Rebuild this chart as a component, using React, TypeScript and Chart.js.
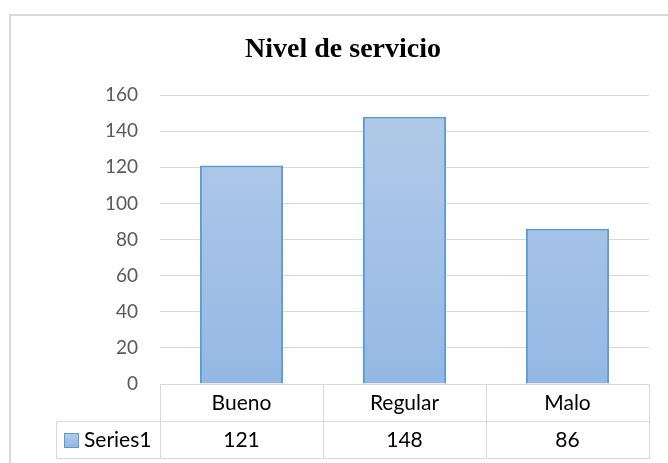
import React, { useEffect, useRef } from "react";
import { Chart, registerables } from "chart.js";

Chart.register(...registerables);

const title = "Nivel de servicio";
const categories = ["Bueno", "Regular", "Malo"];
const seriesName = "Series1";
const values = [121, 148, 86];
const yTicks = [0, 20, 40, 60, 80, 100, 120, 140, 160];

const FONT = "Lato, 'Open Sans', sans-serif";
const LINE = "#d9d9d9";
const BORDER = "#5b9bd5";
const TOP_COLOR = "#b4cbe9";
const BOTTOM_COLOR = "#94b8e4";

const decorPlugin = {
  id: "decor",
  beforeDraw(chart: any) {
    const ctx = chart.ctx;
    ctx.save();
    ctx.fillStyle = "#ffffff";
    ctx.fillRect(0, 0, chart.width, chart.height);
    ctx.strokeStyle = LINE;
    ctx.lineWidth = 2;
    ctx.strokeRect(10, 15, chart.width + 20, chart.height + 20);
    ctx.restore();
  },
  afterDraw(chart: any) {
    const ctx = chart.ctx;
    const ca = chart.chartArea;
    const xs = chart.scales.x;
    const n = categories.length;
    const colW = (ca.right - ca.left) / n;
    const rowH = 37;
    const top = ca.bottom;
    const mid = top + rowH;
    const bot = mid + rowH;
    const leftCol = 56;
    ctx.save();
    // title
    ctx.fillStyle = "#000000";
    ctx.font = "bold 28px 'Liberation Serif', 'Times New Roman', serif";
    ctx.textAlign = "center";
    ctx.textBaseline = "alphabetic";
    ctx.fillText(title, 343, 57);

    // table lines
    ctx.strokeStyle = LINE;
    ctx.lineWidth = 1;
    ctx.beginPath();
    const xl = Math.round(ca.left) + 0.5;
    const xr = Math.round(ca.right) + 0.5;
    ctx.moveTo(xl, top + 0.5);
    ctx.lineTo(xr, top + 0.5);
    ctx.moveTo(leftCol + 0.5, mid + 0.5);
    ctx.lineTo(xr, mid + 0.5);
    ctx.moveTo(leftCol + 0.5, bot + 0.5);
    ctx.lineTo(xr, bot + 0.5);
    ctx.moveTo(leftCol + 0.5, mid);
    ctx.lineTo(leftCol + 0.5, bot + 1);
    for (let i = 0; i <= n; i++) {
      const x = Math.round(ca.left + i * colW) + 0.5;
      ctx.moveTo(x, top);
      ctx.lineTo(x, bot + 1);
    }
    ctx.stroke();

    // texts
    ctx.fillStyle = "#000000";
    ctx.font = "21px " + FONT;
    ctx.textBaseline = "middle";
    ctx.textAlign = "center";
    for (let i = 0; i < n; i++) {
      const cx = xs.getPixelForValue(i);
      ctx.fillText(categories[i], cx, top + rowH / 2 + 1);
      ctx.fillText(String(values[i]), cx, mid + rowH / 2 + 1);
    }
    // legend key
    const ky = mid + 12;
    const g = ctx.createLinearGradient(0, ky, 0, ky + 14);
    g.addColorStop(0, TOP_COLOR);
    g.addColorStop(1, BOTTOM_COLOR);
    ctx.fillStyle = g;
    ctx.fillRect(64, ky, 14, 14);
    ctx.strokeStyle = BORDER;
    ctx.lineWidth = 1;
    ctx.strokeRect(64.5, ky + 0.5, 14, 14);
    ctx.fillStyle = "#000000";
    ctx.textAlign = "left";
    ctx.fillText(seriesName, 84, mid + rowH / 2 + 1);
    ctx.restore();
  },
};

export default function App() {
  const ref = useRef<HTMLCanvasElement | null>(null);
  useEffect(() => {
    document.body.style.margin = "0";
    const canvas = ref.current;
    if (!canvas) return;
    const chart = new Chart(canvas, {
      type: "bar",
      data: {
        labels: categories,
        datasets: [
          {
            label: seriesName,
            data: values,
            backgroundColor: (c: any) => {
              const ch = c.chart;
              const ca = ch.chartArea;
              if (!ca) return TOP_COLOR;
              const g = ch.ctx.createLinearGradient(0, ca.top, 0, ca.bottom);
              g.addColorStop(0, TOP_COLOR);
              g.addColorStop(1, BOTTOM_COLOR);
              return g;
            },
            borderColor: BORDER,
            borderWidth: 2,
            categoryPercentage: 1,
            barPercentage: 0.51,
          },
        ],
      },
      options: {
        animation: false,
        responsive: false,
        maintainAspectRatio: false,
        layout: { padding: { top: 95, bottom: 79, right: 19, left: 0 } },
        plugins: {
          legend: { display: false },
          title: { display: false },
          tooltip: { enabled: false },
        },
        scales: {
          x: { display: false },
          y: {
            min: yTicks[0],
            max: yTicks[yTicks.length - 1],
            afterFit: (s: any) => {
              s.width = 160;
            },
            afterBuildTicks: (s: any) => {
              s.ticks = yTicks.map((v) => ({ value: v }));
            },
            ticks: {
              color: "#595959",
              font: { family: FONT, size: 19 },
              padding: 22,
            },
            grid: { color: LINE, lineWidth: 1, drawTicks: false },
            border: { display: false },
          },
        },
      },
      plugins: [decorPlugin],
    });
    return () => chart.destroy();
  }, []);
  return (
    <div style={{ width: 668, height: 463 }}>
      <canvas ref={ref} width={668} height={463} style={{ display: "block" }} />
    </div>
  );
}
